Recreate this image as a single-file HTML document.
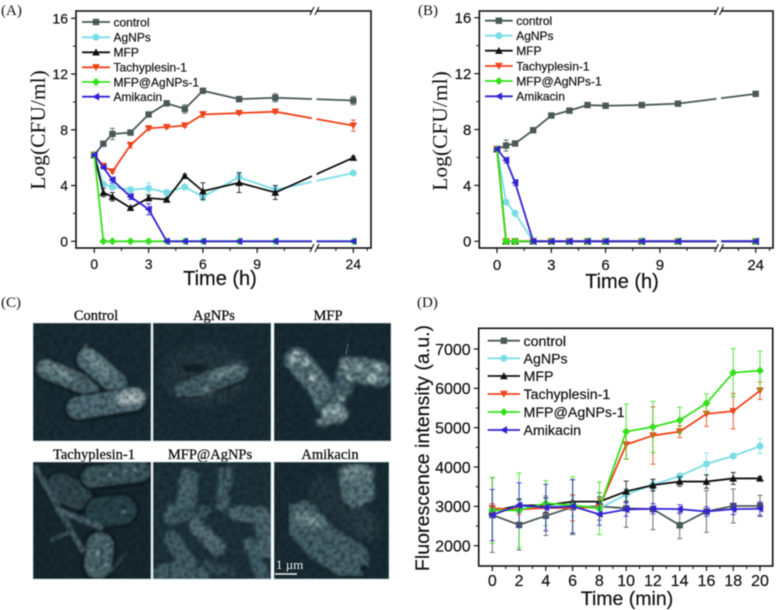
<!DOCTYPE html>
<html lang="en">
<head>
<meta charset="utf-8">
<title>Antibacterial activity panels</title>
<style>
html,body{margin:0;padding:0;background:#fff;width:776px;height:610px;overflow:hidden}
#figure{display:block;filter:blur(0.4px)}
.sans{font-family:"Liberation Sans",sans-serif;fill:#111;stroke:#111;stroke-width:.2}
.serif{font-family:"Liberation Serif",serif;fill:#111}
</style>
</head>
<body>
<svg id="figure" width="776" height="610" viewBox="0 0 776 610" xmlns="http://www.w3.org/2000/svg">
<defs>
<filter id="lump" x="-20%" y="-20%" width="140%" height="140%">
<feTurbulence type="fractalNoise" baseFrequency="0.09" numOctaves="2" seed="4"/>
<feDisplacementMap in="SourceGraphic" scale="8"/>
<feGaussianBlur stdDeviation="1.5"/>
</filter>
<filter id="soft" x="-20%" y="-20%" width="140%" height="140%"><feGaussianBlur stdDeviation="1.1"/></filter>
<filter id="vsoft" x="-40%" y="-40%" width="180%" height="180%"><feGaussianBlur stdDeviation="3.5"/></filter>
<filter id="grain" x="0" y="0" width="100%" height="100%" color-interpolation-filters="sRGB">
<feTurbulence type="fractalNoise" baseFrequency="0.22" numOctaves="2" seed="9"/>
<feColorMatrix type="matrix" values="0 0 0 0 0.05  0 0 0 0 0.09  0 0 0 0 0.11  1.2 0 0 0 -0.42"/>
<feGaussianBlur stdDeviation="0.5"/>
</filter>
<clipPath id="clip-c1"><rect x="33" y="323" width="118" height="118"/></clipPath>
<clipPath id="clip-c2"><rect x="153" y="323" width="118" height="118"/></clipPath>
<clipPath id="clip-c3"><rect x="274" y="323" width="117" height="118"/></clipPath>
<clipPath id="clip-c4"><rect x="33" y="462" width="118" height="117"/></clipPath>
<clipPath id="clip-c5"><rect x="153" y="462" width="118" height="117"/></clipPath>
<clipPath id="clip-c6"><rect x="274" y="462" width="115" height="117"/></clipPath>
<clipPath id="clip-all">
<rect x="33" y="323" width="118" height="118"/><rect x="153" y="323" width="118" height="118"/><rect x="274" y="323" width="117" height="118"/>
<rect x="33" y="462" width="118" height="117"/><rect x="153" y="462" width="118" height="117"/><rect x="274" y="462" width="115" height="117"/>
</clipPath>
</defs>

<text class="serif" x="1" y="15" font-size="15">(A)</text>
<text class="serif" x="418" y="15" font-size="15">(B)</text>
<text class="serif" x="1" y="307" font-size="15">(C)</text>
<text class="serif" x="417" y="307" font-size="15">(D)</text>

<g id="sem" fill="none" stroke-linecap="round">
<text class="serif" x="96" y="320" font-size="14.5" text-anchor="middle" stroke="#111" stroke-width=".3">Control</text>
<text class="serif" x="214" y="320" font-size="14.5" text-anchor="middle" stroke="#111" stroke-width=".3">AgNPs</text>
<text class="serif" x="328" y="320" font-size="14.5" text-anchor="middle" stroke="#111" stroke-width=".3">MFP</text>
<text class="serif" x="94" y="459" font-size="14.5" text-anchor="middle" stroke="#111" stroke-width=".3">Tachyplesin-1</text>
<text class="serif" x="210" y="459" font-size="14.5" text-anchor="middle" stroke="#111" stroke-width=".3">MFP@AgNPs</text>
<text class="serif" x="330" y="459" font-size="14.5" text-anchor="middle" stroke="#111" stroke-width=".3">Amikacin</text>

<g clip-path="url(#clip-c1)">
<rect x="33" y="323" width="118" height="118" fill="#1a2d35" stroke="none"/>
<g filter="url(#soft)">
<line x1="46" y1="369" x2="90" y2="388" stroke="#0d1a20" stroke-width="24"/>
<line x1="46" y1="369" x2="90" y2="387" stroke="#4d686e" stroke-width="19"/>
<line x1="88" y1="360" x2="116" y2="384" stroke="#0d1a20" stroke-width="27"/>
<line x1="88" y1="359" x2="116" y2="383" stroke="#55717a" stroke-width="22"/>
<line x1="78" y1="409" x2="135" y2="400" stroke="#0d1a20" stroke-width="28"/>
<line x1="78" y1="408" x2="134" y2="399" stroke="#54707a" stroke-width="22"/>
<line x1="84" y1="349" x2="86" y2="344" stroke="#7f9a9e" stroke-width="1.4"/>
</g>
<g filter="url(#vsoft)">
<line x1="44" y1="366" x2="70" y2="376" stroke="#839c9f" stroke-width="9"/>
<line x1="88" y1="356" x2="108" y2="372" stroke="#839c9f" stroke-width="9"/>
<line x1="124" y1="398" x2="138" y2="397" stroke="#c6d3d3" stroke-width="13"/>
</g>
</g>

<g clip-path="url(#clip-c2)">
<rect x="153" y="323" width="118" height="118" fill="#1b2e36" stroke="none"/>
<ellipse cx="205" cy="375" rx="44" ry="32" fill="#25393f" stroke="none" filter="url(#vsoft)"/>
<ellipse cx="195" cy="368" rx="13" ry="3.5" fill="#101d23" stroke="none" filter="url(#soft)" opacity=".8"/>
<g filter="url(#soft)">
<line x1="184" y1="392" x2="238" y2="372" stroke="#14232a" stroke-width="24"/>
<line x1="184" y1="391" x2="238" y2="371" stroke="#445f65" stroke-width="20"/>
</g>
<g filter="url(#vsoft)">
<line x1="214" y1="376" x2="240" y2="368" stroke="#7a9498" stroke-width="8"/>
<ellipse cx="207" cy="391" rx="5" ry="4" fill="#7c9599" stroke="none"/>
</g>
</g>

<g clip-path="url(#clip-c3)">
<rect x="274" y="323" width="117" height="118" fill="#192c34" stroke="none"/>
<g filter="url(#lump)" stroke-linejoin="round">
<polyline points="297,360 316,382 334,412" stroke="#5e7a80" stroke-width="25"/>
<polyline points="348,370 378,373" stroke="#6c878c" stroke-width="25"/>
<polyline points="345,383 330,404" stroke="#4d696f" stroke-width="20"/>
<ellipse cx="334" cy="413" rx="13" ry="10" fill="#7e989b" stroke="none"/>
<ellipse cx="322" cy="422" rx="6" ry="4" fill="#7a9396" stroke="none"/>
</g>
<g filter="url(#soft)" fill="#a9bdbe" stroke="none">
<circle cx="296" cy="356" r="5"/><circle cx="306" cy="362" r="4"/><circle cx="291" cy="361" r="3"/>
<circle cx="313" cy="378" r="4"/><circle cx="345" cy="366" r="3"/><circle cx="358" cy="368" r="3"/>
<circle cx="372" cy="378" r="5"/><circle cx="378" cy="368" r="4"/><circle cx="342" cy="398" r="3"/>
<circle cx="336" cy="412" r="4"/><circle cx="326" cy="412" r="2.5"/><circle cx="349" cy="378" r="3"/>
</g>
<line x1="346" y1="354" x2="348" y2="344" stroke="#5a757b" stroke-width="1.1"/>
</g>

<g clip-path="url(#clip-c4)">
<rect x="33" y="462" width="118" height="117" fill="#17282f" stroke="none"/>
<g filter="url(#soft)">
<line x1="60" y1="488" x2="80" y2="498" stroke="#0b151a" stroke-width="32"/>
<line x1="60" y1="487" x2="78" y2="496" stroke="#314a50" stroke-width="27"/>
<line x1="92" y1="478" x2="140" y2="472" stroke="#0b151a" stroke-width="26"/>
<line x1="92" y1="477" x2="140" y2="471" stroke="#405a60" stroke-width="21"/>
<line x1="100" y1="512" x2="122" y2="510" stroke="#0c171c" stroke-width="34"/>
<line x1="100" y1="512" x2="122" y2="510" stroke="#2c444b" stroke-width="29"/>
<line x1="100" y1="545" x2="98" y2="566" stroke="#0b151a" stroke-width="33"/>
<line x1="100" y1="546" x2="98" y2="565" stroke="#506b70" stroke-width="27"/>
<line x1="36" y1="468" x2="82" y2="550" stroke="#466066" stroke-width="5.5"/>
<line x1="58" y1="510" x2="100" y2="527" stroke="#4d686e" stroke-width="6"/>
<line x1="52" y1="540" x2="70" y2="532" stroke="#3a5359" stroke-width="4"/>
<line x1="110" y1="572" x2="126" y2="553" stroke="#2e464c" stroke-width="3"/>
</g>
<g filter="url(#soft)" fill="#8fa5a8" stroke="none">
<circle cx="124" cy="512" r="1.8"/><circle cx="125" cy="471" r="1.6"/><circle cx="110" cy="475" r="1.4"/><circle cx="135" cy="470" r="1.4"/>
<circle cx="98" cy="553" r="2"/><circle cx="105" cy="565" r="1.6"/><circle cx="92" cy="570" r="1.6"/><circle cx="108" cy="545" r="1.4"/>
</g>
</g>

<g clip-path="url(#clip-c5)">
<rect x="153" y="462" width="118" height="117" fill="#1f343c" stroke="none"/>
<g filter="url(#lump)" stroke-linejoin="round">
<polyline points="190,478 186,500 172,516" stroke="#4c676e" stroke-width="17"/>
<polyline points="226,472 222,505" stroke="#476269" stroke-width="13"/>
<polyline points="196,526 218,548" stroke="#556f75" stroke-width="16"/>
<polyline points="236,512 262,516 268,550" stroke="#4f6a71" stroke-width="17"/>
<polyline points="172,540 186,560 160,576 200,576" stroke="#476269" stroke-width="17"/>
<polyline points="178,516 206,512" stroke="#3d5962" stroke-width="11"/>
<polyline points="250,545 262,574" stroke="#4a656f" stroke-width="14"/>
<polyline points="206,566 230,572" stroke="#364d59" stroke-width="10"/>
</g>
</g>

<g clip-path="url(#clip-c6)">
<rect x="274" y="462" width="115" height="117" fill="#1a2d35" stroke="none"/>
<g filter="url(#lump)" stroke-linejoin="round">
<polyline points="322,490 356,518 368,526" stroke="#26393f" stroke-width="30"/>
<polyline points="362,520 366,530" stroke="#2a3f46" stroke-width="20"/>
<polyline points="356,480 358,490" stroke="#5c787d" stroke-width="34"/>
<polyline points="302,520 322,542 350,560" stroke="#4a656c" stroke-width="38"/>
</g>
<g filter="url(#vsoft)">
<line x1="300" y1="516" x2="318" y2="522" stroke="#86a0a3" stroke-width="10"/>
<line x1="345" y1="472" x2="368" y2="472" stroke="#7f999c" stroke-width="10"/>
</g>
<ellipse cx="364" cy="568" rx="4" ry="3" fill="#0d1a1f" stroke="none" filter="url(#soft)"/>
</g>

<rect x="33" y="323" width="358" height="256" filter="url(#grain)" clip-path="url(#clip-all)" stroke="none" fill="#000"/>

<line x1="275" y1="574" x2="297" y2="574" stroke="#f2f5f5" stroke-width="1.6" stroke-linecap="butt"/>
<text x="276" y="569" font-size="13" font-family="'Liberation Serif',serif" fill="#e8eeee" stroke="none">1 µm</text>

<g stroke="#b9ccd2" stroke-width=".7">
<rect x="33" y="323" width="118" height="118"/><rect x="153" y="323" width="118" height="118"/><rect x="274" y="323" width="117" height="118"/>
<rect x="33" y="462" width="118" height="117"/><rect x="153" y="462" width="118" height="117"/><rect x="274" y="462" width="115" height="117"/>
</g>
</g>

<g id="chart-a"></g>
<g id="chart-b"></g>
<g id="chart-d"></g>
</svg>

<script>
const seriesNames = ['control','AgNPs','MFP','Tachyplesin-1','MFP@AgNPs-1','Amikacin'];
const seriesColors = ['#4a5858','#7adde6','#111111','#f0431c','#35e01c','#3222d2'];
const seriesMarkers = ['square','circle','up','down','diamond','left'];

const hours = [0,0.5,1,2,3,4,5,6,8,10,24];
const hourTicks = [0,3,6,9,24];
const hourMinorTicks = [1.5,4.5,7.5,10.5,19,28];
const logTicks = [0,4,8,12,16];
const logMinorTicks = [2,6,10,14];

const aControl = [6.2,7.0,7.7,7.8,9.1,9.9,9.5,10.8,10.2,10.3,10.1];
const aAgNPs   = [6.2,4.1,3.9,3.7,3.8,3.5,3.9,3.2,4.6,3.7,4.9];
const aMFP     = [6.2,3.5,3.2,2.4,3.1,3.0,4.7,3.6,4.2,3.5,6.0];
const aTachy   = [6.2,5.4,5.0,6.9,8.1,8.2,8.3,9.1,9.2,9.3,8.3];
const aCombo   = [6.2,0,0,0,0,0,0,0,0,0,0];
const aAmik    = [6.2,5.3,4.4,3.2,2.3,0,0,0,0,0,0];
const aControlErr = [0.1,0.1,0.4,0.1,0.1,0.1,0.3,0.1,0.1,0.3,0.3];
const aAgNPsErr   = [0.1,0.1,0.2,0.2,0.4,0.2,0.1,0.3,0.4,0.3,0.1];
const aMFPErr     = [0.1,0.3,0.3,0.1,0.2,0.1,0.1,0.6,0.7,0.5,0.1];
const aTachyErr   = [0.1,0.2,0.1,0.2,0.1,0.1,0.1,0.2,0.1,0.1,0.4];
const aComboErr   = [0.1,0,0,0,0,0,0,0,0,0,0];
const aAmikErr    = [0.1,0.1,0.2,0.2,0.4,0,0,0,0,0,0];

const bControl = [6.6,6.85,7.0,7.95,9.0,9.35,9.75,9.7,9.75,9.85,10.55];
const bAgNPs   = [6.6,2.8,2.0,0,0,0,0,0,0,0,0];
const bMFP     = [6.6,0,0,0,0,0,0,0,0,0,0];
const bTachy   = [6.6,0,0,0,0,0,0,0,0,0,0];
const bCombo   = [6.6,0,0,0,0,0,0,0,0,0,0];
const bAmik    = [6.6,5.8,4.2,0,0,0,0,0,0,0,0];
const bControlErr = [0.1,0.4,0.1,0.1,0.1,0.1,0.1,0.1,0.1,0.1,0.1];
const bAgNPsErr   = [0.1,0.1,0.1,0,0,0,0,0,0,0,0];
const bZeroErr    = [0.1,0.2,0.2,0.1,0.1,0.1,0.2,0.2,0.2,0.2,0.2];
const bAmikErr    = [0.1,0.2,0.2,0.1,0.1,0.1,0.1,0.1,0.1,0.1,0.1];

const minutes = [0,2,4,6,8,10,12,14,16,18,20];
const minuteTicks = [0,2,4,6,8,10,12,14,16,18,20];
const minuteMinorTicks = [1,3,5,7,9,11,13,15,17,19];
const intensityTicks = [2000,3000,4000,5000,6000,7000];
const intensityMinorTicks = [2500,3500,4500,5500,6500];

const dControl = [2780,2530,2760,2980,3000,2950,2930,2520,2870,3010,3010];
const dAgNPs   = [2900,3000,3000,3000,2950,3300,3550,3770,4080,4280,4530];
const dMFP     = [2880,3020,3030,3120,3120,3380,3540,3630,3630,3710,3710];
const dTachy   = [2950,2920,2960,2960,2980,4570,4800,4900,5350,5420,5940];
const dCombo   = [2900,2900,3080,3030,2950,4900,5020,5190,5620,6400,6450];
const dAmik    = [2780,3030,2970,3000,2800,2920,2940,2930,2870,2930,2940];
const dControlErr = [950,640,500,700,350,480,520,340,530,430,270];
const dAgNPsErr   = [150,150,200,250,150,150,120,60,280,60,190];
const dMFPErr     = [120,170,180,170,120,260,150,120,170,150,50];
const dTachyErr   = [120,130,150,330,220,370,730,150,320,450,220];
const dComboErr   = [830,950,570,720,670,700,650,330,240,610,490];
const dAmikErr    = [650,570,590,680,280,170,130,110,120,140,170];

const NS = 'http://www.w3.org/2000/svg';
function make(parent, tag, attrs){
  const el = document.createElementNS(NS, tag);
  for (const k in attrs) el.setAttribute(k, attrs[k]);
  parent.appendChild(el);
  return el;
}
function markerPath(kind, x, y, r){
  if (kind === 'square') return `M${x-r} ${y-r}H${x+r}V${y+r}H${x-r}Z`;
  if (kind === 'up') return `M${x} ${y-r*1.2}L${x+r*1.2} ${y+r}H${x-r*1.2}Z`;
  if (kind === 'down') return `M${x} ${y+r*1.2}L${x+r*1.2} ${y-r}H${x-r*1.2}Z`;
  if (kind === 'left') return `M${x-r*1.2} ${y}L${x+r} ${y-r*1.2}V${y+r*1.2}Z`;
  if (kind === 'diamond') return `M${x} ${y-r*1.25}L${x+r*1.25} ${y}L${x} ${y+r*1.25}L${x-r*1.25} ${y}Z`;
  const c = r*1.1;
  return `M${x-c} ${y}a${c} ${c} 0 1 0 ${2*c} 0a${c} ${c} 0 1 0 ${-2*c} 0Z`;
}
function drawChart(c){
  const g = document.getElementById(c.id);
  const frame = make(g,'rect',{x:c.left,y:c.top,width:c.right-c.left,height:c.bottom-c.top,fill:'none',stroke:'#111','stroke-width':1.6});
  
  

  c.yTicks.forEach(v=>{
    const y = c.y(v);
    const t = make(g,'line',{x1:c.left-5,x2:c.left,y1:y,y2:y,stroke:'#111','stroke-width':1.2});
    
    
    const l = make(g,'text',{x:c.left-8,y:y+c.tickFont*0.36,'text-anchor':'end','font-size':c.tickFont,class:'sans'});
    
    
    l.textContent = v;
  });
  c.yMinor.forEach(v=>{
    const y = c.y(v);
    const t = make(g,'line',{x1:c.left-3,x2:c.left,y1:y,y2:y,stroke:'#111','stroke-width':1});
    
    
  });
  c.xTicks.forEach(v=>{
    const x = c.x(v);
    const t = make(g,'line',{x1:x,x2:x,y1:c.bottom,y2:c.bottom+5,stroke:'#111','stroke-width':1.2});
    
    
    const l = make(g,'text',{x:x,y:c.xLabelY,'text-anchor':'middle','font-size':c.tickFont,class:'sans'});
    
    
    l.textContent = v;
  });
  c.xMinor.forEach(v=>{
    const x = c.x(v);
    if (x > c.right) return;
    const t = make(g,'line',{x1:x,x2:x,y1:c.bottom,y2:c.bottom+3,stroke:'#111','stroke-width':1});
    
    
  });

  c.series.forEach((vals,i)=>{
    const color = seriesColors[i];
    const sg = make(g,'g',{});
    
    
    c.errors[i].forEach((e,k)=>{
      if (!e) return;
      const x = c.x(c.xs[k]);
      const y1 = c.y(vals[k]-e), y2 = c.y(vals[k]+e);
      const p = make(sg,'path',{d:`M${x} ${y1}V${y2}M${x-2.5} ${y1}h5M${x-2.5} ${y2}h5`,fill:'none',stroke:color,'stroke-width':1,opacity:.85});
      
      
    });
    const line = make(sg,'polyline',{points:vals.map((v,k)=>c.x(c.xs[k])+','+c.y(v)).join(' '),fill:'none',stroke:color,'stroke-width':1.8,'stroke-linejoin':'round'});
    
    
    vals.forEach((v,k)=>{
      const m = make(sg,'path',{d:markerPath(seriesMarkers[i],c.x(c.xs[k]),c.y(v),c.markerSize),fill:color});
      
      
    });
  });

  if (c.breakX){
    const gap = make(g,'rect',{x:c.breakX,y:c.top-1,width:4.5,height:c.bottom-c.top+2,fill:'#fff'});
    
    
    [c.top,c.bottom].forEach(yy=>{
      const b = make(g,'path',{d:`M${c.breakX-2} ${yy+4}L${c.breakX+2} ${yy-4}M${c.breakX+3} ${yy+4}L${c.breakX+7} ${yy-4}`,fill:'none',stroke:'#111','stroke-width':1.1});
      
      
    });
  }

  seriesNames.forEach((name,i)=>{
    const y = c.legend.ys[i];
    const ln = make(g,'line',{x1:c.legend.x1,x2:c.legend.x2,y1:y,y2:y,stroke:seriesColors[i],'stroke-width':1.8});
    
    
    const mk = make(g,'path',{d:markerPath(seriesMarkers[i],(c.legend.x1+c.legend.x2)/2,y,c.markerSize),fill:seriesColors[i]});
    
    
    const tx = make(g,'text',{x:c.legend.x2+3.5,y:y+c.legend.font*0.36,'font-size':c.legend.font,class:'sans'});
    
    
    tx.textContent = name;
  });

  const xt = make(g,'text',{x:c.xTitle.x,y:c.xTitle.y,'text-anchor':'middle','font-size':c.xTitle.font,class:'sans'});
  
  
  xt.textContent = c.xTitle.text;
  const yt = make(g,'text',{transform:`translate(${c.yTitle.x} ${c.yTitle.y}) rotate(-90)`,'text-anchor':'middle','font-size':c.yTitle.font,class:c.yTitle.cls});
  
  
  yt.textContent = c.yTitle.text;
}
/* linear hours up to the axis break at 12 h, then a compressed segment reaching 24 h at x24 */
function hourScale(x0, x24){
  const k = 18.1, bt = 12, xb = x0 + k*bt;
  return t => {
    if (t <= bt) return x0 + k*t;
    return xb + (t-bt)*(x24-xb)/12;
  };
}
function lineScale(d0, p0, d1, p1){
  return v => p0 + (v-d0)*(p1-p0)/(d1-d0);
}

drawChart({
  id:'chart-a', left:76, right:371, top:11, bottom:248,
  x:hourScale(94.3,353.3), y:lineScale(0,241.3,16,18.3),
  xs:hours, series:[aControl,aAgNPs,aMFP,aTachy,aCombo,aAmik],
  errors:[aControlErr,aAgNPsErr,aMFPErr,aTachyErr,aComboErr,aAmikErr],
  xTicks:hourTicks, xMinor:hourMinorTicks, yTicks:logTicks, yMinor:logMinorTicks,
  tickFont:14, xLabelY:269, markerSize:3.2, breakX:312,
  legend:{x1:82,x2:110,font:12,ys:[22,37.3,52.3,67.3,82,96.7]},
  xTitle:{text:'Time (h)',x:220,y:285,font:20},
  yTitle:{text:'Log(CFU/ml)',x:45,y:130,font:21.5,cls:'serif'}
});
drawChart({
  id:'chart-b', left:479.3, right:773, top:11, bottom:248,
  x:hourScale(497,755.7), y:lineScale(0,241.3,16,17.7),
  xs:hours, series:[bControl,bAgNPs,bMFP,bTachy,bCombo,bAmik],
  errors:[bControlErr,bAgNPsErr,bZeroErr,bZeroErr,bZeroErr,bAmikErr],
  xTicks:hourTicks, xMinor:hourMinorTicks, yTicks:logTicks, yMinor:logMinorTicks,
  tickFont:15, xLabelY:270, markerSize:3.2, breakX:716.5,
  legend:{x1:485,x2:512.7,font:12,ys:[20.7,35.7,50.7,66,81,96.3]},
  xTitle:{text:'Time (h)',x:622,y:288,font:20},
  yTitle:{text:'Log(CFU/ml)',x:447,y:131,font:21.5,cls:'serif'}
});
drawChart({
  id:'chart-d', left:478.7, right:772.7, top:328.3, bottom:566,
  x:lineScale(0,492.3,20,760), y:lineScale(2000,545.7,7000,349),
  xs:minutes, series:[dControl,dAgNPs,dMFP,dTachy,dCombo,dAmik],
  errors:[dControlErr,dAgNPsErr,dMFPErr,dTachyErr,dComboErr,dAmikErr],
  xTicks:minuteTicks, xMinor:minuteMinorTicks, yTicks:intensityTicks, yMinor:intensityMinorTicks,
  tickFont:16, xLabelY:586, markerSize:3.2, breakX:0,
  legend:{x1:487.7,x2:520,font:14.2,ys:[340.7,358.3,376,394,412,430]},
  xTitle:{text:'Time (min)',x:627,y:605,font:19.5},
  yTitle:{text:'Fluorescence intensity (a.u.)',x:429,y:448,font:19.6,cls:'sans'}
});
</script>
</body>
</html>
